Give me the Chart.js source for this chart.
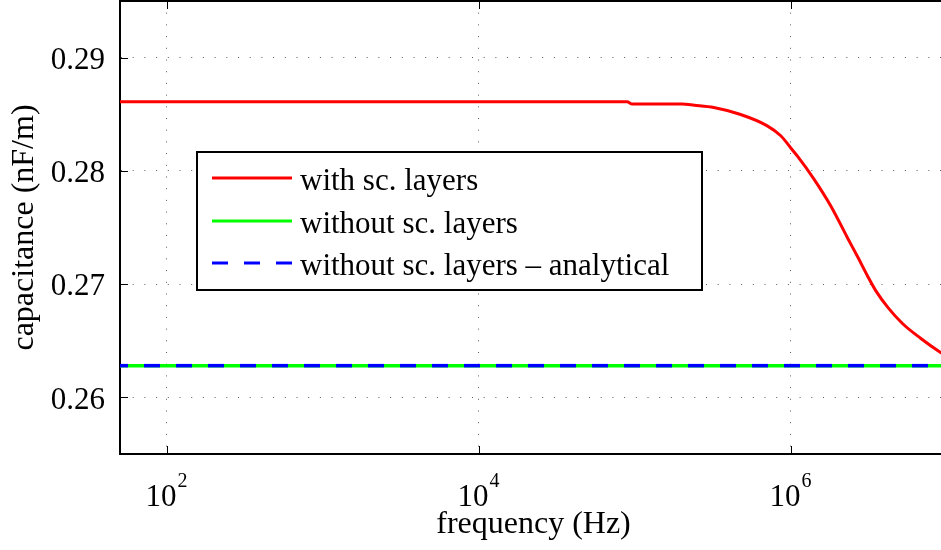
<!DOCTYPE html>
<html>
<head>
<meta charset="utf-8">
<script src="https://cdn.jsdelivr.net/npm/chart.js@4"></script>
<style>
  html, body { margin: 0; padding: 0; background: #fff; overflow: hidden; }
  #wrap { width: 947px; height: 550px; }
</style>
</head>
<body>
<div id="wrap"><canvas id="chart" width="947" height="550"></canvas></div>
<script>
// data
const freqSc = [50, 8.9e4, 9.6e4, 2.0e5, 2.4e5, 3.2e5, 4.7e5, 7.0e5, 8.6e5, 1.0e6, 1.1e6, 1.4e6,
  1.8e6, 2.3e6, 2.7e6, 3.1e6, 3.5e6, 4.2e6, 5.2e6, 6.8e6, 9.0e6, 1.0e7];
const capSc = [0.2861, 0.2861, 0.2859, 0.2859, 0.2858, 0.2856, 0.2850, 0.2840, 0.2831, 0.2820, 0.2813, 0.2793,
  0.2769, 0.2741, 0.2723, 0.2707, 0.2694, 0.2679, 0.2665, 0.2652, 0.2640, 0.2636];
const freqNoSc = [50, 1e7];
const capNoSc = [0.2628, 0.2628];
const capAnalytical = [0.2628, 0.2628];
const xTicks = [1e2, 1e4, 1e6];
const yTicks = [0.26, 0.27, 0.28, 0.29];
const seriesLabels = ['with sc. layers', 'without sc. layers', 'without sc. layers \u2013 analytical'];

const FONT = '"Liberation Serif", "Times New Roman", serif';

const toPoints = (xs, ys) => xs.map((v, i) => ({ x: v, y: ys[i] }));

const extras = {
  id: 'extras',
  afterDraw(chart) {
    const { ctx, chartArea: a, scales: { x, y } } = chart;
    ctx.save();

    // top frame
    ctx.strokeStyle = '#000';
    ctx.lineWidth = 2;
    ctx.beginPath();
    ctx.moveTo(a.left, a.top);
    ctx.lineTo(a.right, a.top);
    ctx.stroke();

    // inward tick marks
    ctx.lineWidth = 1;
    ctx.beginPath();
    xTicks.forEach((v) => {
      const px = Math.round(x.getPixelForValue(v)) + 0.5;
      ctx.moveTo(px, a.bottom);
      ctx.lineTo(px, a.bottom - 8);
      ctx.moveTo(px, a.top);
      ctx.lineTo(px, a.top + 8);
    });
    yTicks.forEach((v) => {
      const py = Math.round(y.getPixelForValue(v)) + 0.5;
      ctx.moveTo(a.left, py);
      ctx.lineTo(a.left + 8, py);
    });
    ctx.stroke();

    // x tick labels as 10^n
    ctx.fillStyle = '#000';
    ctx.textBaseline = 'alphabetic';
    ctx.textAlign = 'left';
    xTicks.forEach((v) => {
      const px = x.getPixelForValue(v);
      const exp = String(Math.round(Math.log10(v)));
      ctx.font = '31px ' + FONT;
      const w1 = ctx.measureText('10').width;
      ctx.font = '20px ' + FONT;
      const w2 = ctx.measureText(exp).width;
      const x0 = px - (w1 + w2) / 2 - 1;
      ctx.font = '31px ' + FONT;
      ctx.fillText('10', x0, a.bottom + 52);
      ctx.font = '20px ' + FONT;
      ctx.fillText(exp, x0 + w1 + 1, a.bottom + 33);
    });

    // legend box
    const box = { left: 197, top: 152, right: 702, bottom: 290 };
    ctx.fillStyle = '#fff';
    ctx.fillRect(box.left, box.top, box.right - box.left, box.bottom - box.top);
    ctx.strokeStyle = '#000';
    ctx.lineWidth = 2;
    ctx.strokeRect(box.left, box.top, box.right - box.left, box.bottom - box.top);
    const rows = [178, 221, 263];
    chart.data.datasets.forEach((ds, i) => {
      ctx.strokeStyle = ds.borderColor;
      ctx.lineWidth = 3;
      ctx.setLineDash(ds.borderDash || []);
      ctx.beginPath();
      ctx.moveTo(212, rows[i]);
      ctx.lineTo(292, rows[i]);
      ctx.stroke();
      ctx.setLineDash([]);
      ctx.fillStyle = '#000';
      ctx.font = '31px ' + FONT;
      ctx.fillText(ds.label, 300, rows[i] + 12);
    });

    ctx.restore();
  }
};

new Chart(document.getElementById('chart'), {
  type: 'line',
  data: {
    datasets: [
      {
        label: seriesLabels[0],
        data: toPoints(freqSc, capSc),
        borderColor: '#ff0000',
        borderWidth: 3,
        cubicInterpolationMode: 'monotone',
        order: 1
      },
      {
        label: seriesLabels[1],
        data: toPoints(freqNoSc, capNoSc),
        borderColor: '#00ff00',
        borderWidth: 3.5,
        order: 2
      },
      {
        label: seriesLabels[2],
        data: toPoints(freqNoSc, capAnalytical),
        borderColor: '#0000ff',
        borderWidth: 3.5,
        borderDash: [16, 16],
        borderDashOffset: 8,
        order: 0
      }
    ]
  },
  options: {
    responsive: false,
    animation: false,
    layout: { padding: { top: 1, left: 0, right: 0, bottom: 0 } },
    elements: { point: { radius: 0 } },
    plugins: { legend: { display: false }, tooltip: { enabled: false } },
    scales: {
      x: {
        type: 'logarithmic',
        min: 50,
        max: 1e7,
        afterBuildTicks: (scale) => { scale.ticks = xTicks.map((v) => ({ value: v })); },
        afterFit: (scale) => {
          scale.height = 96;
          scale.paddingLeft = 0;
          scale.paddingRight = 0;
        },
        ticks: { display: false },
        grid: { color: 'rgba(0,0,0,0.65)', lineWidth: 1, drawTicks: false },
        border: { display: true, color: '#000', width: 2, dash: [1, 10.7] },
        title: {
          display: true,
          text: 'frequency (Hz)',
          color: '#000',
          font: { family: FONT, size: 32 },
          padding: { top: 0, bottom: 6 }
        }
      },
      y: {
        min: 0.255,
        max: 0.295,
        afterBuildTicks: (scale) => { scale.ticks = yTicks.map((v) => ({ value: v })); },
        afterFit: (scale) => {
          scale.width = 120;
          scale.paddingTop = 0;
          scale.paddingBottom = 0;
        },
        ticks: {
          color: '#000',
          font: { family: FONT, size: 31 },
          padding: 15,
          labelOffset: 3,
          callback: (v) => Number(v).toFixed(2)
        },
        grid: { color: 'rgba(0,0,0,0.65)', lineWidth: 1, drawTicks: false },
        border: { display: true, color: '#000', width: 2, dash: [1, 10.7] },
        title: {
          display: true,
          text: 'capacitance (nF/m)',
          color: '#000',
          font: { family: FONT, size: 32 },
          padding: { top: 5, bottom: 0 }
        }
      }
    }
  },
  plugins: [extras]
});
</script>
</body>
</html>
